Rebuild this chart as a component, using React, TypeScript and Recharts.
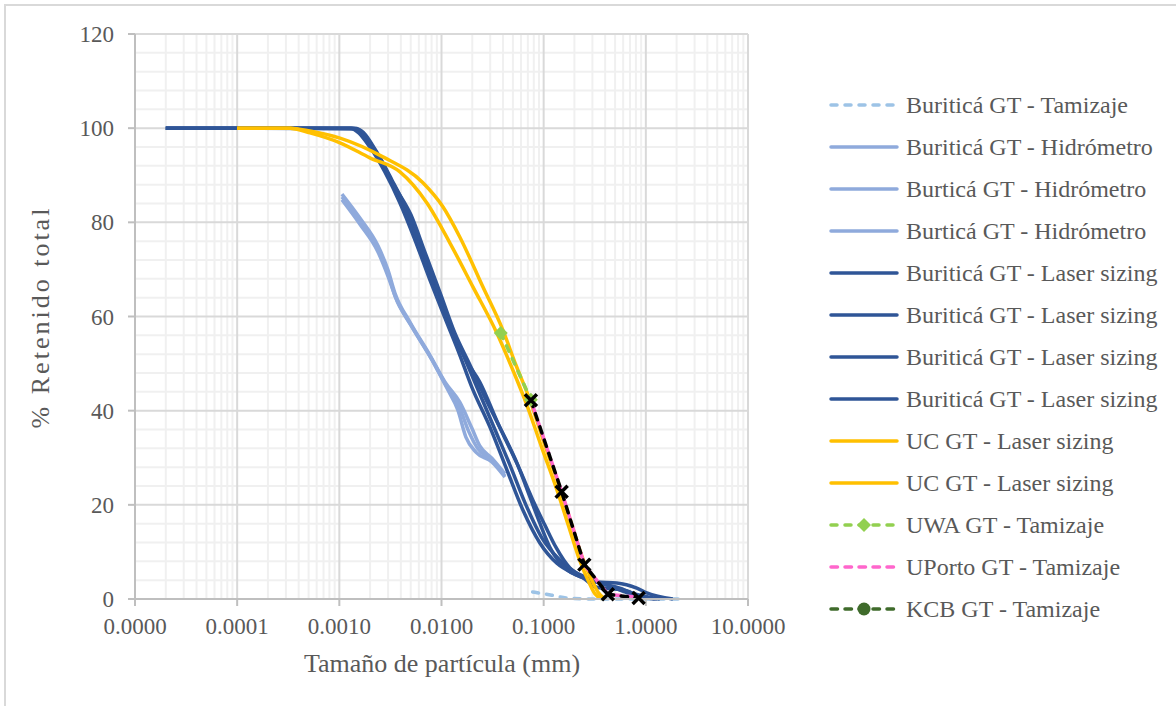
import React from "react";
import { LineChart, Line, XAxis, YAxis, ReferenceLine } from "recharts";

const FONT = "'Liberation Serif', 'Times New Roman', serif";
const TXT = "#595959";

// [particle size (mm), % retenido total]
const buriticaTamizaje = [[0.078, 1.5], [0.12, 0.8], [0.17, 0.2], [0.3, 0], [0.6, 0], [1.18, 0], [2.36, 0]];

const buriticaHidro = [
  [0.00106, 86.0], [0.00159, 80.9], [0.00239, 75.0], [0.00299, 69.9], [0.0035, 65.0], [0.00491, 58.8],
  [0.0077, 51.8], [0.0108, 46.1], [0.0151, 41.8], [0.0198, 36.3], [0.0237, 32.5], [0.0311, 29.9], [0.0417, 26.6],
];
const burticaHidro1 = [
  [0.00106, 84.8], [0.00159, 79.6], [0.00239, 73.7], [0.00299, 68.6], [0.00358, 63.9], [0.00513, 57.8],
  [0.00806, 50.8], [0.01129, 44.8], [0.01447, 40.1], [0.01733, 34.4], [0.02171, 31.2], [0.0311, 29.1], [0.0417, 25.9],
];
const burticaHidro2 = [
  [0.00106, 85.4], [0.00159, 80.3], [0.00239, 74.3], [0.00299, 69.2], [0.0035, 64.4], [0.00502, 58.2],
  [0.00788, 51.2], [0.01104, 45.5], [0.01481, 41.0], [0.01854, 35.5], [0.02271, 31.9], [0.0311, 29.5], [0.0417, 26.1],
];

const laser1 = [
  [0.00002, 100], [0.000167, 100], [0.00127, 100], [0.00199, 96.0], [0.00279, 90.7], [0.00392, 84.1],
  [0.00549, 76.3], [0.0077, 67.8], [0.0108, 59.7], [0.0151, 51.8], [0.0198, 45.0], [0.0298, 36.5],
  [0.0437, 27.4], [0.0626, 18.9], [0.0918, 11.9], [0.1346, 7.6], [0.1931, 5.5], [0.2831, 4.0],
  [0.4443, 2.8], [0.6228, 1.5], [0.8736, 0.4], [1.281, 0],
];
const laser2 = [
  [0.00002, 100], [0.000167, 100], [0.00133, 100], [0.00208, 95.8], [0.00299, 90.1], [0.00419, 83.7],
  [0.00588, 75.8], [0.00824, 67.3], [0.01155, 59.3], [0.01583, 52.5], [0.02171, 45.5], [0.03184, 37.0],
  [0.0467, 28.5], [0.067, 20.0], [0.096, 13.0], [0.144, 8.3], [0.202, 5.7], [0.3315, 3.6],
  [0.5202, 3.4], [0.8166, 2.3], [1.023, 1.3], [1.837, 0],
];
const laser3 = [
  [0.00002, 100], [0.000167, 100], [0.00142, 100], [0.00223, 95.4], [0.00327, 89.0], [0.00469, 82.2],
  [0.00643, 74.6], [0.00922, 65.6], [0.01264, 57.6], [0.01733, 50.8], [0.0237, 46.1], [0.0356, 37.4],
  [0.0547, 28.9], [0.0733, 21.7], [0.0918, 16.1], [0.115, 11.0], [0.1687, 6.2], [0.2418, 4.5],
  [0.3315, 2.5], [0.5957, 1.9], [0.8736, 0.8], [1.371, 0],
];
const laser4 = [
  [0.00002, 100], [0.000167, 100], [0.00149, 99.8], [0.00233, 94.9], [0.00342, 87.9], [0.00502, 81.6],
  [0.00688, 73.7], [0.00986, 64.6], [0.0135, 56.5], [0.019, 49.7], [0.026, 43.3], [0.039, 35.5],
  [0.0585, 27.4], [0.0784, 21.0], [0.1027, 15.7], [0.1317, 11.0], [0.1805, 6.6], [0.253, 4.7],
  [0.3548, 3.4], [0.5567, 2.3], [0.8736, 0.6], [1.225, 0],
];

const ucLaser1 = [
  [0.0001, 100], [0.000329, 100], [0.000516, 99.4], [0.001014, 97.9], [0.00267, 93.9], [0.00658, 88.4],
  [0.01032, 83.3], [0.0151, 76.9], [0.0254, 66.3], [0.0399, 57.1], [0.0535, 49.7], [0.0733, 42.3],
  [0.1027, 32.7], [0.144, 23.6], [0.1888, 15.7], [0.2365, 9.1], [0.2962, 4.0], [0.3391, 1.5], [0.397, 0],
];
const ucLaser2 = [
  [0.0001, 100], [0.000329, 100], [0.000516, 99.0], [0.001014, 96.9], [0.00199, 93.7], [0.00392, 90.7],
  [0.0072, 84.1], [0.0121, 75.6], [0.0203, 66.3], [0.0348, 56.5], [0.0489, 49.1], [0.0685, 41.2],
  [0.096, 32.1], [0.1346, 23.2], [0.1765, 15.3], [0.221, 8.7], [0.2768, 3.6], [0.317, 1.1], [0.3711, 0],
];

const uwaTamizaje = [[0.038, 56.5], [0.075, 42.3]];
const uportoTamizaje = [[0.075, 42.2], [0.15, 22.8], [0.25, 7.3], [0.425, 1.0], [0.9, 0.3]];
const kcbTamizaje = [[0.075, 42.2], [0.15, 22.8], [0.25, 7.3], [0.425, 1.0], [0.85, 0.2]];

const xTicks = [0.00001, 0.0001, 0.001, 0.01, 0.1, 1, 10];
const yTicks = [0, 20, 40, 60, 80, 100, 120];
const xMinor = [];
for (let d = -5; d <= 0; d++) for (let k = 2; k <= 9; k++) xMinor.push(k * Math.pow(10, d));
const yMinor = [];
for (let v = 4; v < 120; v += 4) if (v % 20 !== 0) yMinor.push(v);

const pts = (arr) => arr.map(([x, y]) => ({ x, y }));

const series = [
  { name: "Buriticá GT - Tamizaje", data: buriticaTamizaje, color: "#9DC3E6", dash: "6 8" },
  { name: "Buriticá GT - Hidrómetro", data: buriticaHidro, color: "#8FAADC" },
  { name: "Burticá GT - Hidrómetro", data: burticaHidro1, color: "#8FAADC" },
  { name: "Burticá GT - Hidrómetro", data: burticaHidro2, color: "#8FAADC" },
  { name: "Buriticá GT - Laser sizing", data: laser1, color: "#2F5597" },
  { name: "Buriticá GT - Laser sizing", data: laser2, color: "#2F5597" },
  { name: "Buriticá GT - Laser sizing", data: laser3, color: "#2F5597" },
  { name: "Buriticá GT - Laser sizing", data: laser4, color: "#2F5597" },
  { name: "UC GT - Laser sizing", data: ucLaser1, color: "#FFC000" },
  { name: "UC GT - Laser sizing", data: ucLaser2, color: "#FFC000" },
  { name: "UWA GT - Tamizaje", data: uwaTamizaje, color: "#92D050", dash: "6 8", marker: "diamond", straight: true },
  { name: "UPorto GT - Tamizaje", data: uportoTamizaje, color: "#FF66CC", dash: "6.5 7.5", offset: 7, straight: true },
  {
    name: "KCB GT - Tamizaje", data: kcbTamizaje, color: "#000000", dash: "6.5 7.5", marker: "x", straight: true,
    legendColor: "#3F6B2B", legendMarker: "circle",
  },
];

const Diamond = ({ cx, cy, color }) => (
  <path d={`M${cx},${cy - 7}L${cx + 7},${cy}L${cx},${cy + 7}L${cx - 7},${cy}Z`} fill={color} />
);
const XMark = ({ cx, cy }) => (
  <path
    d={`M${cx - 6},${cy - 6}L${cx + 6},${cy + 6}M${cx - 6},${cy + 6}L${cx + 6},${cy - 6}`}
    stroke="#000"
    strokeWidth={3.5}
  />
);

const renderDot = (s) => (p) => {
  if (p.cx == null || p.cy == null) return <g key={p.index} />;
  if (s.marker === "x") return <XMark key={p.index} cx={p.cx} cy={p.cy} />;
  return <Diamond key={p.index} cx={p.cx} cy={p.cy} color={s.color} />;
};

export default function App() {
  return (
    <div style={{ position: "absolute", left: 0, top: 0, width: 1176, height: 706, overflow: "hidden", background: "#fff" }}>
      <div
        style={{
          position: "absolute", left: 4, top: 4, width: 1200, height: 730,
          border: "2px solid #D9D9D9", boxSizing: "border-box",
        }}
      />
      <div style={{ position: "absolute", left: 0, top: 0 }}>
        <LineChart width={1176} height={706} margin={{ top: 34, right: 428, bottom: 47, left: 0 }}>
          {xMinor.map((v) => (
            <ReferenceLine key={"xm" + v} x={v} stroke="#F0F0F0" strokeWidth={2} />
          ))}
          {yMinor.map((v) => (
            <ReferenceLine key={"ym" + v} y={v} stroke="#F0F0F0" strokeWidth={2} />
          ))}
          {xTicks.slice(1).map((v) => (
            <ReferenceLine key={"xM" + v} x={v} stroke="#D9D9D9" strokeWidth={2} />
          ))}
          {yTicks.slice(1).map((v) => (
            <ReferenceLine key={"yM" + v} y={v} stroke="#D9D9D9" strokeWidth={2} />
          ))}
          <XAxis
            dataKey="x"
            type="number"
            scale="log"
            domain={[0.00001, 10]}
            ticks={xTicks}
            interval={0}
            allowDataOverflow
            height={60}
            tickFormatter={(v) => v.toFixed(4)}
            tick={{ fill: TXT, fontSize: 23, fontFamily: FONT }}
            tickSize={7}
            tickMargin={12}
            stroke="#BFBFBF"
            axisLine={{ stroke: "#BFBFBF", strokeWidth: 2 }}
            tickLine={{ stroke: "#BFBFBF", strokeWidth: 2 }}
          />
          <YAxis
            type="number"
            domain={[0, 120]}
            ticks={yTicks}
            interval={0}
            width={135}
            tick={{ fill: TXT, fontSize: 23, fontFamily: FONT }}
            tickSize={7}
            tickMargin={14}
            stroke="#BFBFBF"
            axisLine={{ stroke: "#BFBFBF", strokeWidth: 2 }}
            tickLine={{ stroke: "#BFBFBF", strokeWidth: 2 }}
          />
          {series.map((s, i) => (
            <Line
              key={i}
              data={pts(s.data)}
              dataKey="y"
              type={s.straight ? "linear" : "monotoneX"}
              stroke={s.color}
              strokeWidth={3.5}
              strokeDasharray={s.dash}
              strokeDashoffset={s.offset}
              strokeLinecap={s.dash ? "round" : "butt"}
              dot={s.marker ? renderDot(s) : false}
              activeDot={false}
              isAnimationActive={false}
            />
          ))}
        </LineChart>
      </div>
      <svg width={1176} height={706} style={{ position: "absolute", left: 0, top: 0, pointerEvents: "none" }}>
        <text x={442} y={672} textAnchor="middle" fontSize={26} fontFamily={FONT} fill={TXT}>
          Tamaño de partícula (mm)
        </text>
        <text
          transform="translate(49,317) rotate(-90)"
          textAnchor="middle"
          fontSize={26}
          fontFamily={FONT}
          fill={TXT}
          letterSpacing={3}
        >
          % Retenido total
        </text>
        {series.map((s, i) => {
          const y = 105 + 42 * i;
          const c = s.legendColor || s.color;
          return (
            <g key={i}>
              <line
                x1={831}
                x2={897}
                y1={y}
                y2={y}
                stroke={c}
                strokeWidth={3.5}
                strokeDasharray={s.dash}
                strokeLinecap="round"
              />
              {s.marker === "diamond" && <Diamond cx={864} cy={y} color={c} />}
              {s.legendMarker === "circle" && <circle cx={864} cy={y} r={6.5} fill={c} />}
              <text x={906} y={y} dy="0.34em" fontSize={24} fontFamily={FONT} fill={TXT}>
                {s.name}
              </text>
            </g>
          );
        })}
      </svg>
    </div>
  );
}
